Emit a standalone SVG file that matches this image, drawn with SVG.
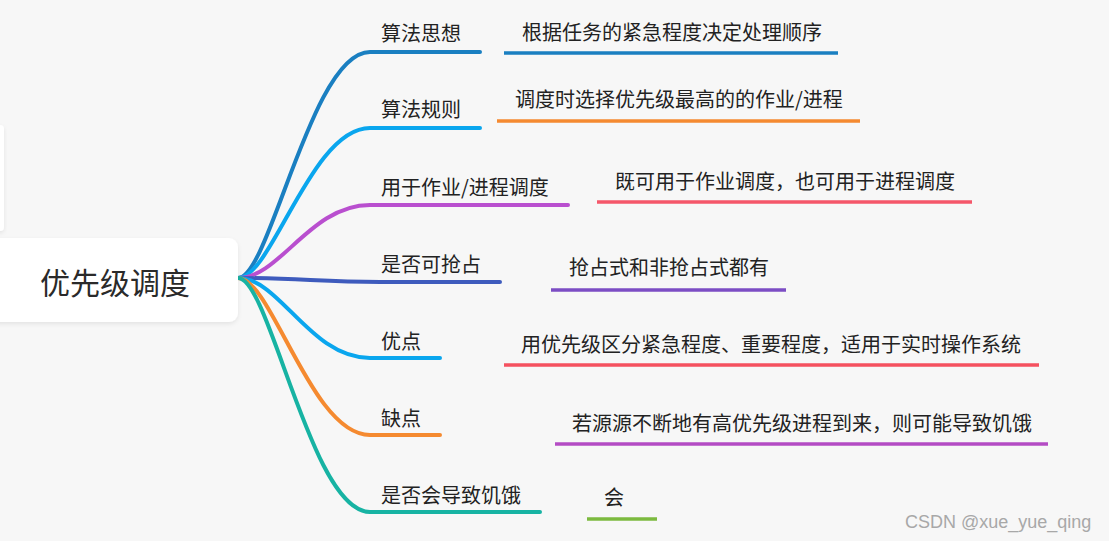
<svg xmlns="http://www.w3.org/2000/svg" width="1109" height="541" viewBox="0 0 1109 541">
<defs>
<style>
.t{font-family:"Noto Sans CJK SC","Noto Sans",sans-serif;font-size:20px;fill:#222}
.root{font-family:"Noto Sans CJK SC","Noto Sans",sans-serif;font-size:30px;fill:#2a2a2a}
.c{fill:none;stroke-width:4;stroke-linecap:round}
.u{stroke-width:3.5;stroke-linecap:butt}
.wm{font-family:"Liberation Sans","Noto Sans",sans-serif;font-size:18px;fill:#a8a8a8}
</style>
<filter id="sh" x="-10%" y="-20%" width="130%" height="150%">
<feDropShadow dx="0" dy="2" stdDeviation="2" flood-color="#000" flood-opacity="0.08"/>
</filter>
</defs>
<rect width="1109" height="541" fill="#f7f7f7"/>
<rect x="-10" y="125" width="14" height="106" rx="4" fill="#ffffff" filter="url(#sh)"/>
<g id="connectors">
<path class="c" stroke="#1a7fc1" d="M238,278 C270,278 311,52 370,52 L480,52"/>
<path class="c" stroke="#0aa6ee" d="M238,278 C272,278 311,128 370,128 L480,128"/>
<path class="c" stroke="#b94fcf" d="M238,278 C280,278 310,205 370,205 L568,205"/>
<path class="c" stroke="#3e5bbd" d="M238,278 C300,278 320,282 380,282 L500,282"/>
<path class="c" stroke="#0aa6ee" d="M238,278 C280,278 310,358 370,358 L440,358"/>
<path class="c" stroke="#f58a30" d="M238,278 C272,278 311,435 370,435 L440,435"/>
<path class="c" stroke="#17b3a3" d="M238,278 C270,278 311,512 370,512 L540,512"/>
</g>
<g id="root">
<rect x="-12" y="238" width="250" height="84" rx="9" fill="#ffffff" filter="url(#sh)"/>
<text class="root" x="115" y="294" text-anchor="middle">优先级调度</text>
</g>
<g id="n1"><text class="t" x="381" y="41">算法思想</text></g>
<g id="n2"><text class="t" x="381" y="117">算法规则</text></g>
<g id="n3"><text class="t" x="381" y="195">用于作业/进程调度</text></g>
<g id="n4"><text class="t" x="381" y="272">是否可抢占</text></g>
<g id="n5"><text class="t" x="381" y="349">优点</text></g>
<g id="n6"><text class="t" x="381" y="426">缺点</text></g>
<g id="n7"><text class="t" x="381" y="503">是否会导致饥饿</text></g>
<g id="l1"><text class="t" x="522" y="40">根据任务的紧急程度决定处理顺序</text><line class="u" x1="504" y1="53" x2="838" y2="53" stroke="#1a7fc1"/></g>
<g id="l2"><text class="t" x="515" y="107">调度时选择优先级最高的的作业/进程</text><line class="u" x1="497" y1="121" x2="860" y2="121" stroke="#f58a30"/></g>
<g id="l3"><text class="t" x="615" y="189">既可用于作业调度，也可用于进程调度</text><line class="u" x1="597" y1="202" x2="972" y2="202" stroke="#f5576a"/></g>
<g id="l4"><text class="t" x="569" y="275">抢占式和非抢占式都有</text><line class="u" x1="551" y1="290" x2="786" y2="290" stroke="#7c4dc4"/></g>
<g id="l5"><text class="t" x="521" y="352">用优先级区分紧急程度、重要程度，适用于实时操作系统</text><line class="u" x1="504" y1="365" x2="1039" y2="365" stroke="#f5515f"/></g>
<g id="l6"><text class="t" x="572" y="431">若源源不断地有高优先级进程到来，则可能导致饥饿</text><line class="u" x1="555" y1="444" x2="1048" y2="444" stroke="#b44cc4"/></g>
<g id="l7"><text class="t" x="604" y="505">会</text><line class="u" x1="587" y1="519" x2="657" y2="519" stroke="#7cba3f"/></g>
<text class="wm" x="905" y="528">CSDN @xue_yue_qing</text>
</svg>
